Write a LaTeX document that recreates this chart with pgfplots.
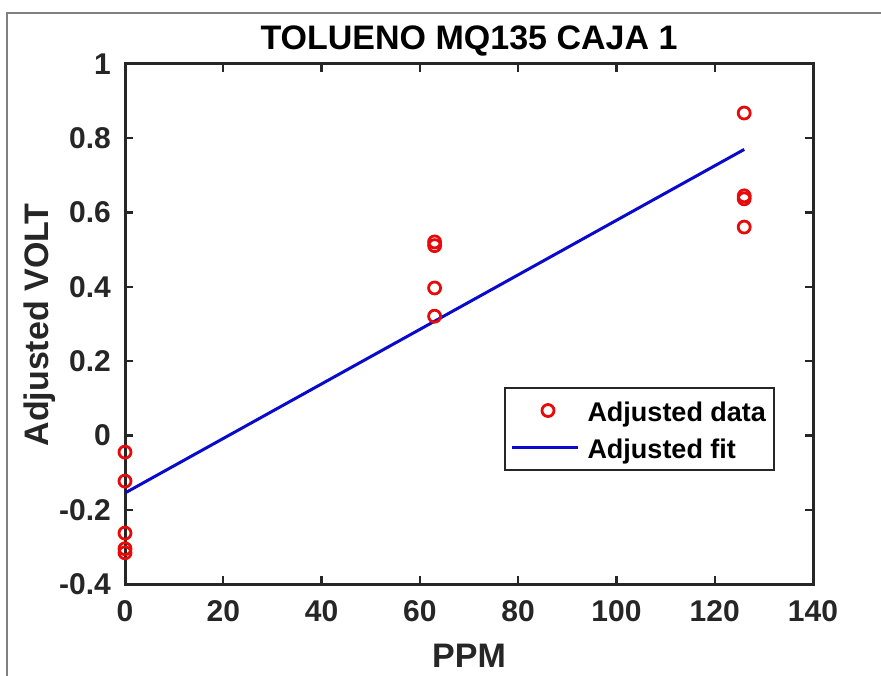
\documentclass[border=0pt]{standalone}
\usepackage{fontspec}
\setmainfont{Liberation Sans}
\usepackage{pgfplots}
\pgfplotsset{compat=1.18}
\definecolor{axgray}{RGB}{38,38,38}
\definecolor{framegray}{RGB}{128,128,128}
\definecolor{fitblue}{RGB}{10,10,205}
\definecolor{ptred}{RGB}{230,10,10}
\pgfplotsset{
  dotlegend/.style={legend image code/.code={\draw[##1] plot coordinates {(36pt,0pt)};}},
  linelegend/.style={legend image code/.code={\draw[##1] (0pt,0pt) -- (66pt,0pt);}},
}

\begin{document}
\begin{tikzpicture}[x=1pt,y=1pt]
\useasboundingbox (0,0) rectangle (881,675);
% outer figure frame
\draw[framegray, line width=2pt] (7,-2) -- (7,662) -- (884,662);

\begin{axis}[
  at={(125pt,91pt)}, anchor=south west,
  width=688pt, height=520pt, scale only axis,
  xmin=0, xmax=140, ymin=-0.4, ymax=1,
  xtick={0,20,...,140},
  ytick={-0.4,-0.2,0,0.2,0.4,0.6,0.8,1},
  yticklabels={-0.4,-0.2,0,0.2,0.4,0.6,0.8,1},
  xticklabels={0,20,40,60,80,100,120,140},
  tick align=inside, major tick length=8pt,
  axis line style={axgray, line width=3pt},
  every tick/.style={axgray, line width=2.2pt},
  tick label style={font=\fontsize{30}{30}\selectfont\bfseries, text=axgray, inner sep=0pt},
  xticklabel style={yshift=-16pt},
  yticklabel style={xshift=-14pt},
  legend style={
    at={(0.9448,0.3788)}, anchor=north east,
    draw=axgray, line width=2pt,
    font=\fontsize{27}{27}\selectfont\bfseries,
    inner xsep=6pt, inner ysep=5pt,
    row sep=2pt,
    nodes={inner sep=2pt, text height=26pt, text depth=5pt},
    /tikz/every odd column/.append style={column sep=6pt},
  },
  legend cell align=left,
]
% measured response, three concentration levels
\addplot[only marks, mark=o, mark size=6pt, ptred, line width=2.8pt, dotlegend]
  coordinates {
  (0,-0.045) (0,-0.123) (0,-0.263) (0,-0.305) (0,-0.316)
  (63,0.521) (63,0.511) (63,0.397) (63,0.321)
  (126,0.868) (126,0.645) (126,0.637) (126,0.561)
};
\addlegendentry{Adjusted data}
% linear fit
\addplot[fitblue, line width=3pt, linelegend]
  coordinates {(0,-0.155) (126,0.770)};
\addlegendentry{Adjusted fit}
\end{axis}

\node[anchor=base, font=\fontsize{34}{34}\selectfont\bfseries, text=black] at (469,625) {TOLUENO MQ135 CAJA 1};
\node[anchor=base, font=\fontsize{34}{34}\selectfont\bfseries, text=axgray] at (469,8) {PPM};
\node[anchor=base, rotate=90, font=\fontsize{34}{34}\selectfont\bfseries, text=axgray] at (49,350) {Adjusted VOLT};
\end{tikzpicture}
\end{document}
